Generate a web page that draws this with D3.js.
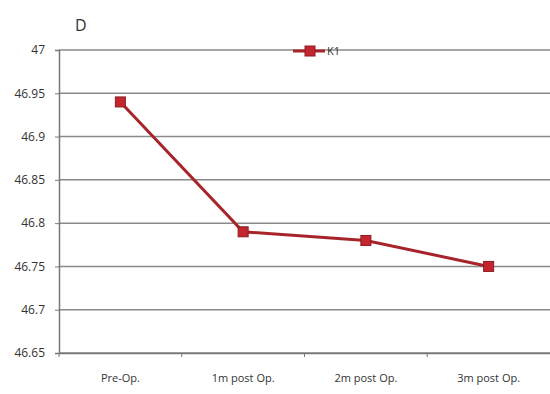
<!DOCTYPE html>
<html>
<head>
<meta charset="utf-8">
<script src="https://cdn.jsdelivr.net/npm/d3@7"></script>
<style>
  body { margin: 0; background: #fff; }
  text { font-family: "Open Sans", "Noto Sans", sans-serif; fill: #333; }
</style>
</head>
<body>
<script>
// data
var categories = ["Pre-Op.", "1m post Op.", "2m post Op.", "3m post Op."];
var k1Values = [46.94, 46.79, 46.78, 46.75];
var yTicks = [46.65, 46.7, 46.75, 46.8, 46.85, 46.9, 46.95, 47];
var seriesName = "K1";
var panelLabel = "D";

var width = 550,
    height = 394,
    margin = {top: 50, right: 0, bottom: 41, left: 59};

var svg = d3.select("body").append("svg")
    .attr("width", width)
    .attr("height", height);

var x = d3.scaleBand()
    .domain(categories)
    .range([margin.left, width - margin.right]);

var y = d3.scaleLinear()
    .domain([46.65, 47])
    .range([height - margin.bottom, margin.top]);

// horizontal gridlines
svg.append("g")
    .selectAll("line")
    .data(yTicks)
    .enter().append("line")
    .attr("x1", margin.left)
    .attr("x2", width)
    .attr("y1", function (d) { return y(d); })
    .attr("y2", function (d) { return y(d); })
    .attr("stroke", "#8a8a8a")
    .attr("stroke-width", 1.5);

// y axis
var yAxis = svg.append("g")
    .attr("transform", "translate(" + margin.left + ",0)")
    .call(d3.axisLeft(y).tickValues(yTicks).tickSize(4).tickPadding(10)
        .tickFormat(function (d) { return String(+d.toFixed(2)); }));
yAxis.select(".domain").attr("stroke", "#777").attr("stroke-width", 1.5);
yAxis.selectAll(".tick line").attr("stroke", "#777");
yAxis.selectAll("text").style("font-size", "12px").attr("fill", "#333");

// x axis
var xAxis = svg.append("g")
    .attr("transform", "translate(0," + (height - margin.bottom) + ")")
    .call(d3.axisBottom(x).tickSize(0).tickPadding(21));
xAxis.select(".domain").attr("stroke", "#777").attr("stroke-width", 1.5);
xAxis.selectAll("text").style("font-size", "11px").attr("fill", "#333");

// tick marks between categories
svg.append("g")
    .selectAll("line")
    .data(categories)
    .enter().append("line")
    .attr("x1", function (d) { return x(d); })
    .attr("x2", function (d) { return x(d); })
    .attr("y1", height - margin.bottom)
    .attr("y2", height - margin.bottom + 4)
    .attr("stroke", "#777")
    .attr("stroke-width", 1);

// series line
var line = d3.line()
    .x(function (d, i) { return x(categories[i]) + x.bandwidth() / 2; })
    .y(function (d) { return y(d); });

svg.append("path")
    .datum(k1Values)
    .attr("d", line)
    .attr("fill", "none")
    .attr("stroke", "#a8242b")
    .attr("stroke-width", 3);

svg.append("g")
    .selectAll("rect")
    .data(k1Values)
    .enter().append("rect")
    .attr("x", function (d, i) { return x(categories[i]) + x.bandwidth() / 2 - 5; })
    .attr("y", function (d) { return y(d) - 5; })
    .attr("width", 10)
    .attr("height", 10)
    .attr("fill", "#c4262e")
    .attr("stroke", "#8e1b20")
    .attr("stroke-width", 1);

// legend
var legend = svg.append("g").attr("transform", "translate(293,51)");
legend.append("line")
    .attr("x1", 0).attr("x2", 32)
    .attr("stroke", "#a8242b").attr("stroke-width", 3);
legend.append("rect")
    .attr("x", 12).attr("y", -5).attr("width", 10).attr("height", 10)
    .attr("fill", "#c4262e").attr("stroke", "#8e1b20");
legend.append("text")
    .attr("x", 34).attr("y", 4)
    .style("font-size", "11px")
    .text(seriesName);

// panel label
svg.append("text")
    .attr("x", 75).attr("y", 31)
    .style("font-size", "16px")
    .attr("fill", "#222")
    .text(panelLabel);
</script>
</body>
</html>
